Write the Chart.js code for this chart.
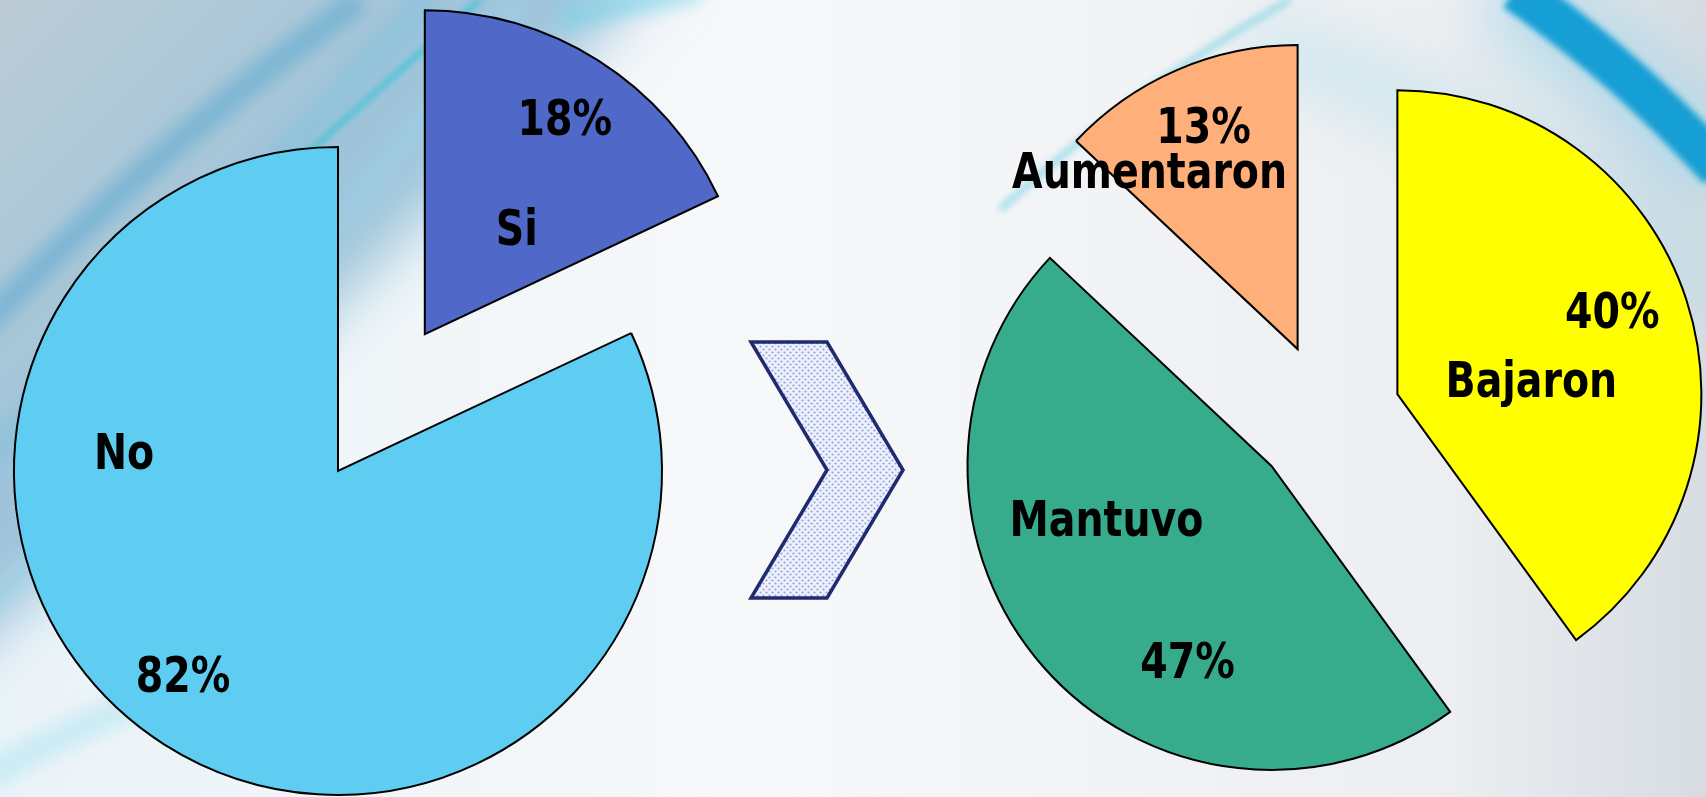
<!DOCTYPE html>
<html>
<head>
<meta charset="utf-8">
<script src="https://cdn.jsdelivr.net/npm/chart.js@4.4.1/dist/chart.umd.min.js"></script>
<style>
  html, body { margin: 0; padding: 0; width: 1706px; height: 797px; overflow: hidden; }
  #bg { position: absolute; left: 0; top: 0; }
  .pie { position: absolute; }
  #leftBox { left: -162px; top: -29px; width: 1000px; height: 1000px; }
  #rightBox { left: 877px; top: -33px; width: 900px; height: 900px; }
  #arrow { position: absolute; left: 0; top: 0; }
</style>
</head>
<body>
<svg id="bg" width="1706" height="797">
  <defs>
    <linearGradient id="base" x1="0" y1="0" x2="1" y2="0">
      <stop offset="0" stop-color="#eaf3f8"/>
      <stop offset="0.45" stop-color="#f7f8fa"/>
      <stop offset="0.85" stop-color="#eceef1"/>
      <stop offset="1" stop-color="#d6dce1"/>
    </linearGradient>
    <linearGradient id="corner" x1="0" y1="0" x2="1" y2="1">
      <stop offset="0" stop-color="#c6cfd5"/>
      <stop offset="0.45" stop-color="#9cc3da"/>
      <stop offset="1" stop-color="#d8ecf6"/>
    </linearGradient>
    <filter id="b30" filterUnits="userSpaceOnUse" x="-300" y="-300" width="2400" height="1400"><feGaussianBlur stdDeviation="30"/></filter>
    <filter id="b8" filterUnits="userSpaceOnUse" x="-300" y="-300" width="2400" height="1400"><feGaussianBlur stdDeviation="8"/></filter>
    <filter id="b3" filterUnits="userSpaceOnUse" x="-300" y="-300" width="2400" height="1400"><feGaussianBlur stdDeviation="3"/></filter>
  </defs>
  <rect width="1706" height="797" fill="url(#base)"/>
  <path d="M-80,-80 L700,-80 Q450,220 -80,700 Z" fill="url(#corner)" filter="url(#b30)"/>
  <path d="M-20,330 Q150,150 360,0" stroke="#5aa9d0" stroke-width="26" fill="none" opacity="0.55" filter="url(#b8)"/>
  <path d="M-20,470 Q180,260 430,0" stroke="#7fc0de" stroke-width="30" fill="none" opacity="0.45" filter="url(#b8)"/>
  <path d="M-20,620 Q230,360 520,0" stroke="#9fd4ea" stroke-width="22" fill="none" opacity="0.45" filter="url(#b8)"/>
  <path d="M300,160 Q400,70 480,0" stroke="#2ec3d6" stroke-width="5" fill="none" opacity="0.8" filter="url(#b3)"/>
  <path d="M-20,780 Q120,700 260,660" stroke="#9fe0ef" stroke-width="30" fill="none" opacity="0.4" filter="url(#b8)"/>
  <path d="M560,20 Q620,5 700,-10" stroke="#6fd4e8" stroke-width="24" fill="none" opacity="0.5" filter="url(#b8)"/>
  <path d="M1000,210 Q1130,90 1290,0" stroke="#7fd4e4" stroke-width="8" fill="none" opacity="0.6" filter="url(#b3)"/>
  <path d="M1250,40 Q1500,120 1720,300" stroke="#a8dbea" stroke-width="60" fill="none" opacity="0.45" filter="url(#b30)"/>
  <path d="M1500,-10 Q1620,60 1720,180" stroke="#8fd3ee" stroke-width="90" fill="none" opacity="0.5" filter="url(#b30)"/>
  <path d="M1515,-10 Q1630,70 1720,170" stroke="#129fd5" stroke-width="42" fill="none" filter="url(#b3)"/>
</svg>

<div id="leftBox" class="pie"><canvas id="leftPie"></canvas></div>
<div id="rightBox" class="pie"><canvas id="rightPie"></canvas></div>

<svg id="arrow" width="1706" height="797">
  <defs>
    <pattern id="dots" width="6" height="6" patternUnits="userSpaceOnUse">
      <rect width="6" height="6" fill="#eef1fb"/>
      <circle cx="1.5" cy="1.5" r="1.1" fill="#8fa2e2"/>
      <circle cx="4.5" cy="4.5" r="1.1" fill="#8fa2e2"/>
    </pattern>
  </defs>
  <polygon points="751,342 827,342 903,470 827,598 751,598 827,470"
           fill="url(#dots)" stroke="#1f2b6e" stroke-width="3.5" stroke-linejoin="miter"/>
</svg>

<script>
// Encuesta 1: respuesta Si / No
const labelsA = ["Si", "No"];
const valuesA = [18, 82];
const colorsA = ["#5068c8", "#5fccf2"];

// Encuesta 2: qué pasó con los valores
const labelsB = ["Bajaron", "Mantuvo", "Aumentaron"];
const valuesB = [40, 47, 13];
const colorsB = ["#ffff00", "#36ac8c", "#ffb07a"];

const FONT = "bold 50px 'DejaVu Sans'";
const SQUEEZE = 0.79;

// separa las porciones sin agrandar el radio (el offset nativo lo hace)
const explode = {
    id: "explode",
    beforeDatasetDraw(chart, args, opts) {
        const ctx = chart.ctx;
        args.meta.data.forEach((arc, i) => {
            const d = opts.dist[i] || 0;
            const mid = (arc.startAngle + arc.endAngle) / 2;
            ctx.save();
            ctx.translate(Math.cos(mid) * d, Math.sin(mid) * d);
            arc.draw(ctx);
            ctx.restore();
        });
        return false;
    },
    afterDatasetsDraw(chart, args, opts) {
        const ctx = chart.ctx;
        const data = chart.data;
        chart.getDatasetMeta(0).data.forEach((arc, i) => {
            const d = opts.dist[i] || 0;
            const mid = (arc.startAngle + arc.endAngle) / 2;
            const cx = arc.x + Math.cos(mid) * d;
            const cy = arc.y + Math.sin(mid) * d;
            const pos = opts.labelPos[i];
            const texts = [
                [data.datasets[0].data[i] + "%", pos.pct],
                [data.labels[i], pos.name]
            ];
            ctx.save();
            ctx.font = FONT;
            ctx.fillStyle = "#000";
            ctx.textAlign = "center";
            ctx.textBaseline = "alphabetic";
            texts.forEach(([t, p]) => {
                ctx.save();
                ctx.translate(cx + p[0], cy + p[1]);
                ctx.scale(SQUEEZE, 1);
                ctx.fillText(t, 0, 0);
                ctx.restore();
            });
            ctx.restore();
        });
    }
};

function makePie(id, labels, values, colors, radius, dist, labelPos) {
    return new Chart(document.getElementById(id), {
        type: "pie",
        data: {
            labels: labels,
            datasets: [{
                data: values,
                backgroundColor: colors,
                borderColor: "#000",
                borderWidth: 2,
                borderJoinStyle: "miter"
            }]
        },
        options: {
            responsive: true,
            maintainAspectRatio: false,
            animation: false,
            events: [],
            radius: radius,
            layout: { padding: 0 },
            plugins: {
                legend: { display: false },
                tooltip: { enabled: false },
                explode: { dist: dist, labelPos: labelPos }
            }
        },
        plugins: [explode]
    });
}

makePie("leftPie", labelsA, valuesA, colorsA, 324, [162, 0], [
    { pct: [140, -199], name: [92, -89] },
    { pct: [-155, 221], name: [-214, -2] }
]);

makePie("rightPie", labelsB, valuesB, colorsB, 304, [74, 74, 74], [
    { pct: [215, -66], name: [134, 3] },
    { pct: [-84, 212], name: [-165, 70] },
    { pct: [-94, -206], name: [-148, -161] }
]);
</script>
</body>
</html>
